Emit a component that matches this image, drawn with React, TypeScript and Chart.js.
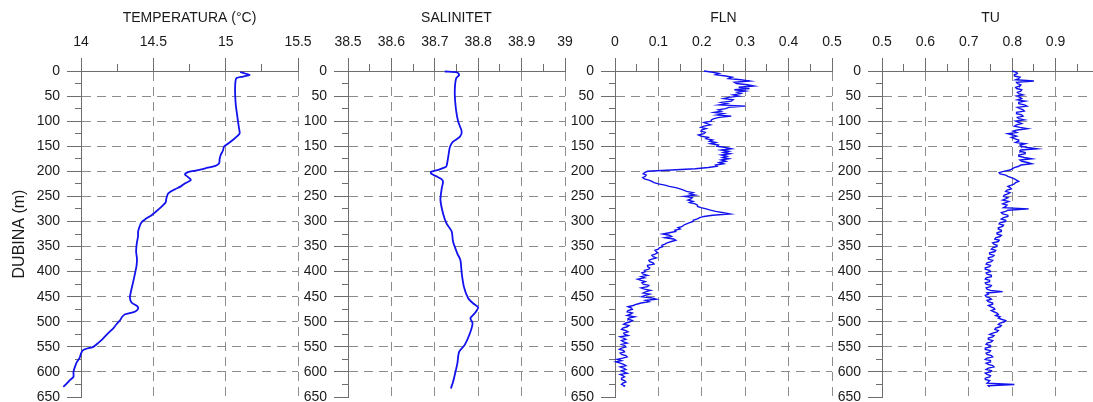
import React, { useEffect, useRef } from "react";
import { Chart, registerables } from "chart.js";

Chart.register(...registerables);

// ---- Depth axis (m) ----
const DEPTH_MIN = 0;
const DEPTH_MAX = 650;
const DEPTH_MINOR_STEP = 25;

// ---- Temperature profile (°C) ----
const TEMP_DEPTH = [
  2, 5, 8, 11, 14, 20, 35, 50, 68, 85, 100, 114, 124, 130, 135, 144, 151, 158, 168, 176,
  184, 189, 194, 198, 201, 206, 212, 217, 224, 230, 236, 244, 254, 262, 268, 276, 287, 296,
  302, 310, 320, 330, 345, 360, 375, 388, 400, 420, 440, 452, 462, 468, 473, 480, 485, 490,
  497, 505, 513, 522, 533, 542, 550, 553, 557, 565, 572, 580, 590, 600, 610, 616, 623, 630,
];
const TEMP_VALUES = [
  15.1, 15.135, 15.165, 15.12, 15.075, 15.068, 15.065, 15.066, 15.07, 15.078, 15.085, 15.092,
  15.097, 15.08, 15.06, 15.02, 14.988, 14.982, 14.965, 14.958, 14.955, 14.93, 14.86, 14.8,
  14.745, 14.718, 14.742, 14.76, 14.72, 14.69, 14.648, 14.603, 14.59, 14.585, 14.566, 14.536,
  14.49, 14.442, 14.417, 14.405, 14.395, 14.394, 14.385, 14.381, 14.387, 14.384, 14.376,
  14.361, 14.345, 14.338, 14.35, 14.385, 14.396, 14.372, 14.305, 14.285, 14.27, 14.245,
  14.223, 14.19, 14.154, 14.12, 14.085, 14.045, 14.012, 13.998, 13.99, 13.972, 13.958,
  13.948, 13.948, 13.925, 13.902, 13.878,
];

// ---- Salinity profile ----
const SAL_DEPTH = [
  1, 3, 8, 15, 44, 78, 101, 121, 131, 141, 151, 171, 186, 191, 197, 201, 205, 211, 216, 221,
  234, 257, 284, 304, 320, 340, 364, 377, 403, 430, 453, 463, 471, 477, 483, 493, 503, 523,
  546, 560, 583, 606, 620, 633,
];
const SAL_VALUES = [
  38.723, 38.752, 38.756, 38.749, 38.746, 38.749, 38.754, 38.762, 38.758, 38.742, 38.735,
  38.731, 38.728, 38.726, 38.708, 38.691, 38.692, 38.706, 38.716, 38.719, 38.716, 38.713,
  38.719, 38.727, 38.739, 38.742, 38.752, 38.759, 38.762, 38.767, 38.777, 38.788, 38.8,
  38.797, 38.792, 38.782, 38.787, 38.781, 38.769, 38.756, 38.752, 38.746, 38.742, 38.737,
];

// ---- Optical profiles sampled every 2.5 m ----
const PROFILE_DEPTH = [
  0, 2.5, 5, 7.5, 10, 12.5, 15, 17.5, 20, 22.5,
  25, 27.5, 30, 32.5, 35, 37.5, 40, 42.5, 45, 47.5,
  50, 52.5, 55, 57.5, 60, 62.5, 65, 67.5, 70, 72.5,
  75, 77.5, 80, 82.5, 85, 87.5, 90, 92.5, 95, 97.5,
  100, 102.5, 105, 107.5, 110, 112.5, 115, 117.5, 120, 122.5,
  125, 127.5, 130, 132.5, 135, 137.5, 140, 142.5, 145, 147.5,
  150, 152.5, 155, 157.5, 160, 162.5, 165, 167.5, 170, 172.5,
  175, 177.5, 180, 182.5, 185, 187.5, 190, 192.5, 195, 197.5,
  200, 202.5, 205, 207.5, 210, 212.5, 215, 217.5, 220, 222.5,
  225, 227.5, 230, 232.5, 235, 237.5, 240, 242.5, 245, 247.5,
  250, 252.5, 255, 257.5, 260, 262.5, 265, 267.5, 270, 272.5,
  275, 277.5, 280, 282.5, 285, 287.5, 290, 292.5, 295, 297.5,
  300, 302.5, 305, 307.5, 310, 312.5, 315, 317.5, 320, 322.5,
  325, 327.5, 330, 332.5, 335, 337.5, 340, 342.5, 345, 347.5,
  350, 352.5, 355, 357.5, 360, 362.5, 365, 367.5, 370, 372.5,
  375, 377.5, 380, 382.5, 385, 387.5, 390, 392.5, 395, 397.5,
  400, 402.5, 405, 407.5, 410, 412.5, 415, 417.5, 420, 422.5,
  425, 427.5, 430, 432.5, 435, 437.5, 440, 442.5, 445, 447.5,
  450, 452.5, 455, 457.5, 460, 462.5, 465, 467.5, 470, 472.5,
  475, 477.5, 480, 482.5, 485, 487.5, 490, 492.5, 495, 497.5,
  500, 502.5, 505, 507.5, 510, 512.5, 515, 517.5, 520, 522.5,
  525, 527.5, 530, 532.5, 535, 537.5, 540, 542.5, 545, 547.5,
  550, 552.5, 555, 557.5, 560, 562.5, 565, 567.5, 570, 572.5,
  575, 577.5, 580, 582.5, 585, 587.5, 590, 592.5, 595, 597.5,
  600, 602.5, 605, 607.5, 610, 612.5, 615, 617.5, 620, 622.5,
  625, 627.5, 630,
];
const FLN_VALUES = [
  0.205, 0.225, 0.24, 0.232, 0.255, 0.27, 0.262, 0.29, 0.31, 0.275,
  0.28, 0.305, 0.32, 0.285, 0.31, 0.275, 0.3, 0.282, 0.29, 0.272,
  0.285, 0.262, 0.25, 0.272, 0.268, 0.245, 0.258, 0.24, 0.3, 0.262,
  0.255, 0.238, 0.245, 0.228, 0.25, 0.235, 0.268, 0.24, 0.228, 0.222,
  0.222, 0.205, 0.212, 0.22, 0.205, 0.198, 0.21, 0.2, 0.198, 0.208,
  0.205, 0.192, 0.198, 0.215, 0.21, 0.225, 0.218, 0.232, 0.22, 0.238,
  0.235, 0.255, 0.268, 0.245, 0.262, 0.25, 0.265, 0.245, 0.258, 0.248,
  0.262, 0.245, 0.255, 0.24, 0.25, 0.232, 0.235, 0.215, 0.185, 0.13,
  0.075, 0.068, 0.065, 0.072, 0.07, 0.064, 0.068, 0.078, 0.085, 0.09,
  0.1, 0.115, 0.125, 0.14, 0.15, 0.158, 0.165, 0.18, 0.172, 0.185,
  0.16, 0.178, 0.175, 0.168, 0.18, 0.172, 0.185, 0.19, 0.19, 0.198,
  0.21, 0.22, 0.232, 0.25, 0.265, 0.225, 0.205, 0.195, 0.19, 0.18,
  0.18, 0.172, 0.165, 0.158, 0.155, 0.145, 0.15, 0.138, 0.14, 0.125,
  0.11, 0.125, 0.13, 0.115, 0.135, 0.14, 0.13, 0.12, 0.115, 0.108,
  0.11, 0.102, 0.1, 0.092, 0.095, 0.098, 0.092, 0.085, 0.088, 0.095,
  0.085, 0.078, 0.08, 0.088, 0.09, 0.075, 0.075, 0.08, 0.078, 0.068,
  0.07, 0.062, 0.065, 0.075, 0.06, 0.068, 0.052, 0.06, 0.07, 0.062,
  0.065, 0.078, 0.075, 0.06, 0.068, 0.082, 0.072, 0.065, 0.08, 0.07,
  0.062, 0.085, 0.095, 0.07, 0.078, 0.06, 0.05, 0.042, 0.03, 0.038,
  0.04, 0.03, 0.028, 0.04, 0.035, 0.028, 0.045, 0.032, 0.03, 0.04,
  0.035, 0.025, 0.02, 0.032, 0.028, 0.018, 0.015, 0.025, 0.03, 0.02,
  0.022, 0.03, 0.012, 0.02, 0.025, 0.015, 0.02, 0.028, 0.015, 0.022,
  0.025, 0.015, 0.01, 0.02, 0.022, 0.012, 0.015, 0.025, 0.028, 0.018,
  0.005, 0.015, 0.002, 0.012, 0.02, 0.025, 0.012, 0.02, 0.025, 0.015,
  0.02, 0.028, 0.012, 0.018, 0.022, 0.015, 0.015, 0.022, 0.025, 0.018,
  0.015, 0.022, 0.02,
];
const TU_VALUES = [
  0.8, 0.81, 0.812, 0.805, 0.805, 0.818, 0.815, 0.808, 0.85, 0.81,
  0.812, 0.82, 0.818, 0.808, 0.81, 0.822, 0.82, 0.812, 0.815, 0.825,
  0.81, 0.818, 0.822, 0.812, 0.83, 0.815, 0.815, 0.828, 0.834, 0.812,
  0.818, 0.825, 0.828, 0.81, 0.81, 0.822, 0.825, 0.812, 0.815, 0.828,
  0.808, 0.815, 0.822, 0.81, 0.805, 0.818, 0.835, 0.812, 0.802, 0.81,
  0.79, 0.802, 0.81, 0.798, 0.805, 0.815, 0.815, 0.808, 0.83, 0.818,
  0.82, 0.835, 0.857, 0.82, 0.818, 0.83, 0.83, 0.815, 0.815, 0.828,
  0.845, 0.818, 0.822, 0.835, 0.845, 0.82, 0.815, 0.805, 0.8, 0.795,
  0.78, 0.77, 0.772, 0.785, 0.79, 0.798, 0.805, 0.81, 0.815, 0.808,
  0.805, 0.798, 0.79, 0.795, 0.798, 0.788, 0.785, 0.795, 0.79, 0.782,
  0.78, 0.79, 0.785, 0.778, 0.792, 0.785, 0.778, 0.788, 0.785, 0.78,
  0.838, 0.79, 0.785, 0.775, 0.778, 0.79, 0.79, 0.78, 0.775, 0.785,
  0.785, 0.772, 0.77, 0.78, 0.778, 0.768, 0.768, 0.775, 0.775, 0.765,
  0.765, 0.775, 0.772, 0.762, 0.76, 0.77, 0.768, 0.755, 0.758, 0.765,
  0.765, 0.755, 0.752, 0.762, 0.76, 0.748, 0.748, 0.758, 0.755, 0.745,
  0.745, 0.755, 0.752, 0.742, 0.74, 0.75, 0.748, 0.738, 0.738, 0.748,
  0.75, 0.74, 0.742, 0.752, 0.752, 0.74, 0.738, 0.748, 0.748, 0.738,
  0.74, 0.752, 0.75, 0.74, 0.742, 0.75, 0.778, 0.742, 0.745, 0.738,
  0.74, 0.748, 0.752, 0.742, 0.745, 0.755, 0.755, 0.745, 0.75, 0.758,
  0.76, 0.752, 0.758, 0.765, 0.768, 0.762, 0.772, 0.768, 0.775, 0.785,
  0.782, 0.772, 0.768, 0.775, 0.772, 0.762, 0.76, 0.768, 0.765, 0.755,
  0.748, 0.758, 0.755, 0.745, 0.745, 0.755, 0.752, 0.742, 0.74, 0.75,
  0.75, 0.738, 0.738, 0.75, 0.748, 0.74, 0.742, 0.752, 0.755, 0.742,
  0.738, 0.75, 0.75, 0.74, 0.745, 0.755, 0.758, 0.745, 0.74, 0.752,
  0.75, 0.738, 0.742, 0.75, 0.748, 0.738, 0.738, 0.748, 0.745, 0.742,
  0.805, 0.745, 0.748,
];

// ---- Panel titles and value ranges [min, max, minor step] ----
const PANEL_TITLES = ["TEMPERATURA (°C)", "SALINITET", "FLN", "TU"];
const PANEL_RANGES: [number, number, number][] = [
  [14, 15.5, 0.25],
  [38.5, 39, 0.05],
  [0, 0.5, 0.05],
  [0.5, 1, 0.05],
];
const DEPTH_TITLE = "DUBINA (m)";

// ---- Styling ----
const FONT = '"Liberation Sans", Arial, Helvetica, sans-serif';
const AXIS_COLOR = "#6e6e6e";
const GRID_COLOR = "#8c8c8c";
const TEXT_COLOR = "#1a1a1a";
const LINE_COLOR = "#1212ee";
const GRID_DASH = [9, 6];

const PANEL_SPACING = 267;
const CANVAS_W = 330;
const CANVAS_H = 420;
const PLOT_LEFT = 81;
const PLOT_RIGHT = 298;
const PLOT_TOP = 71;
const PLOT_BOTTOM = 397;
const X_TICK_LEN = 13;
const Y_TICK_LEN = 14;
const X_MINOR_LEN = 7;
const Y_MINOR_LEN = 6;

const fmt = (v: number) => String(Math.round(v * 100) / 100);

type PanelProps = {
  left: number;
  title: string;
  range: [number, number, number];
  depth: number[];
  values: number[];
  lineWidth: number;
  tension: number;
  showDepthTitle: boolean;
};

function ProfilePanel({ left, title, range, depth, values, lineWidth, tension, showDepthTitle }: PanelProps) {
  const ref = useRef<HTMLCanvasElement | null>(null);

  useEffect(() => {
    const canvas = ref.current;
    if (!canvas) return;
    const [xMin, xMax, xStep] = range;
    const points = depth.map((d, i) => ({ x: values[i], y: d }));

    // even tick indices are the labelled (major) ticks, odd ones are short minor marks
    const gridColor = (c: any) => (c.index % 2 === 0 && c.index !== 0 ? GRID_COLOR : "rgba(0,0,0,0)");
    const minorDash = (len: number, minor: number) => (c: any) =>
      c.index % 2 === 0 ? [] : [0, len - minor, minor, 100];

    const chart = new Chart(canvas, {
      type: "scatter",
      data: {
        datasets: [
          {
            data: points,
            showLine: true,
            borderColor: LINE_COLOR,
            backgroundColor: LINE_COLOR,
            borderWidth: lineWidth,
            pointRadius: 0,
            pointHoverRadius: 0,
            tension,
            fill: false,
            clip: false,
          } as any,
        ],
      },
      options: {
        responsive: false,
        animation: false,
        devicePixelRatio: 1,
        events: [],
        layout: {
          padding: { left: 0, top: 0, right: CANVAS_W - PLOT_RIGHT, bottom: CANVAS_H - PLOT_BOTTOM },
        },
        plugins: {
          legend: { display: false },
          tooltip: { enabled: false },
          title: { display: false },
        },
        scales: {
          x: {
            type: "linear",
            position: "top",
            min: xMin,
            max: xMax,
            afterFit: (s: any) => {
              s.height = PLOT_TOP;
            },
            ticks: {
              stepSize: xStep,
              autoSkip: false,
              maxRotation: 0,
              minRotation: 0,
              padding: 7,
              color: TEXT_COLOR,
              font: { family: FONT, size: 14 },
              callback: (v: any, i: number) => (i % 2 === 0 ? fmt(Number(v)) : ""),
            },
            grid: {
              color: gridColor,
              lineWidth: 1,
              tickLength: X_TICK_LEN,
              tickColor: AXIS_COLOR,
              tickWidth: 1,
              tickBorderDash: minorDash(X_TICK_LEN, X_MINOR_LEN),
            },
            border: { display: true, color: AXIS_COLOR, width: 1, dash: GRID_DASH },
            title: {
              display: true,
              text: title,
              color: TEXT_COLOR,
              font: { family: FONT, size: 14 },
              padding: { top: 10, bottom: 0 },
            },
          },
          y: {
            type: "linear",
            position: "left",
            reverse: true,
            min: DEPTH_MIN,
            max: DEPTH_MAX,
            afterFit: (s: any) => {
              s.width = PLOT_LEFT;
            },
            ticks: {
              stepSize: DEPTH_MINOR_STEP,
              autoSkip: false,
              padding: 7,
              color: TEXT_COLOR,
              font: { family: FONT, size: 14 },
              callback: (v: any, i: number) => (i % 2 === 0 ? fmt(Number(v)) : ""),
            },
            grid: {
              color: gridColor,
              lineWidth: 1,
              tickLength: Y_TICK_LEN,
              tickColor: AXIS_COLOR,
              tickWidth: 1,
              tickBorderDash: minorDash(Y_TICK_LEN, Y_MINOR_LEN),
            },
            border: { display: true, color: AXIS_COLOR, width: 1, dash: GRID_DASH },
            title: {
              display: showDepthTitle,
              text: DEPTH_TITLE,
              color: TEXT_COLOR,
              font: { family: FONT, size: 16 },
              padding: { top: 10, bottom: 0 },
            },
          },
        },
      } as any,
    });

    return () => chart.destroy();
  }, [title, range, depth, values, lineWidth, tension, showDepthTitle]);

  return (
    <canvas
      ref={ref}
      width={CANVAS_W}
      height={CANVAS_H}
      style={{ position: "absolute", left, top: 0, width: CANVAS_W, height: CANVAS_H }}
    />
  );
}

const PANEL_DATA = [
  { depth: TEMP_DEPTH, values: TEMP_VALUES, lineWidth: 1.8, tension: 0.25 },
  { depth: SAL_DEPTH, values: SAL_VALUES, lineWidth: 1.8, tension: 0.25 },
  { depth: PROFILE_DEPTH, values: FLN_VALUES, lineWidth: 1.4, tension: 0 },
  { depth: PROFILE_DEPTH, values: TU_VALUES, lineWidth: 1.4, tension: 0 },
];

export default function App() {
  return (
    <div
      style={{
        position: "fixed",
        left: 0,
        top: 0,
        width: 1093,
        height: 402,
        overflow: "hidden",
        background: "#ffffff",
      }}
    >
      {PANEL_DATA.map((p, i) => (
        <ProfilePanel
          key={PANEL_TITLES[i]}
          left={i * PANEL_SPACING}
          title={PANEL_TITLES[i]}
          range={PANEL_RANGES[i]}
          depth={p.depth}
          values={p.values}
          lineWidth={p.lineWidth}
          tension={p.tension}
          showDepthTitle={i === 0}
        />
      ))}
    </div>
  );
}
